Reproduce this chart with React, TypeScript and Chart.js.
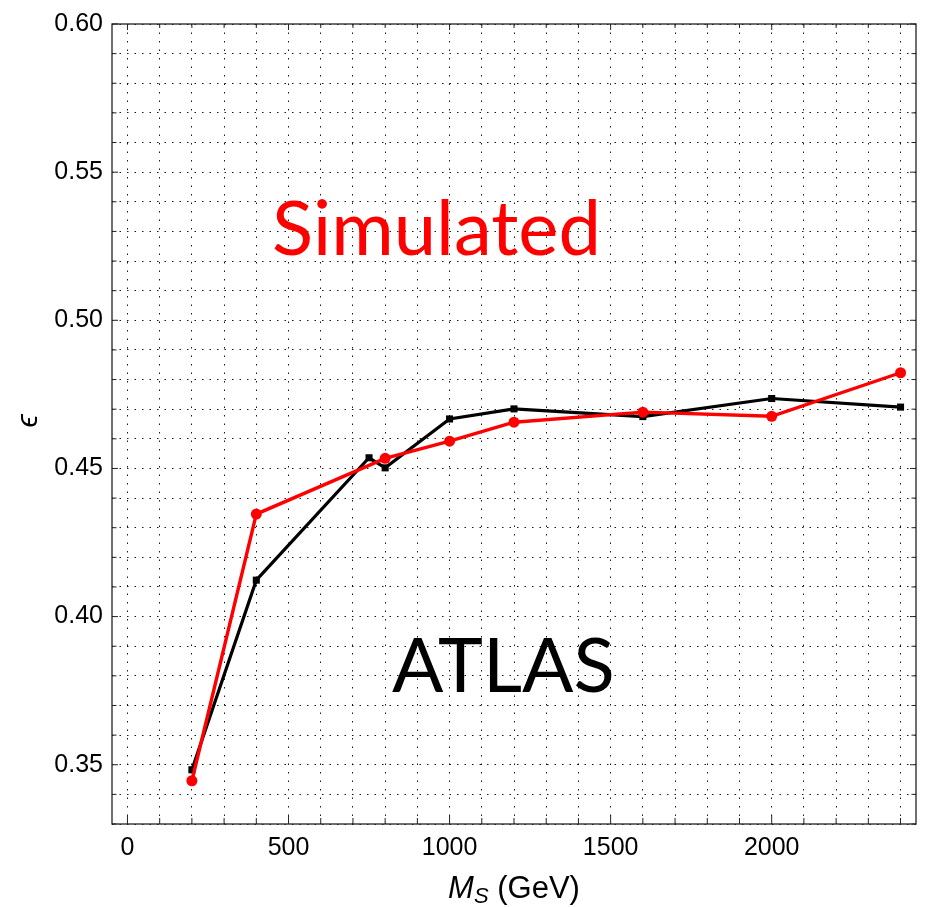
import React, { useEffect, useRef } from "react";
import { Chart, registerables } from "chart.js";

Chart.register(...registerables);

// ---- data ----
const atlasMass = [200, 400, 750, 800, 1000, 1200, 1600, 2000, 2400];
const atlasEff = [0.3483, 0.4123, 0.4536, 0.4502, 0.4667, 0.4701, 0.4675, 0.4736, 0.4707];

const simMass = [200, 400, 800, 1000, 1200, 1600, 2000, 2400];
const simEff = [0.3446, 0.4346, 0.4534, 0.4592, 0.4656, 0.4690, 0.4676, 0.4823];

// tick / grid values
const xTickValues: number[] = [];
for (let v = 0; v <= 2400; v += 100) xTickValues.push(v);
const yTickValues: number[] = [];
for (let i = 33; i <= 60; i++) yTickValues.push(i / 100);

const X_MIN = -48;
const X_MAX = 2448;
const Y_MIN = 0.33;
const Y_MAX = 0.6;

const TICK_FONT = "Liberation Sans, Arial, sans-serif";
const LABEL_FONT = "Lato, 'Noto Sans', sans-serif";

const decorPlugin = {
  id: "decor",
  afterDraw(chart: any) {
    const { ctx, chartArea } = chart;
    const { left, right, top, bottom } = chartArea;
    const xs = chart.scales.x;
    const ys = chart.scales.y;
    ctx.save();
    // frame
    ctx.strokeStyle = "#222";
    ctx.lineWidth = 1.3;
    ctx.strokeRect(left, top, right - left, bottom - top);
    // inward ticks
    ctx.lineWidth = 1;
    ctx.beginPath();
    xTickValues.forEach((v) => {
      const p = xs.getPixelForValue(v);
      const major = v % 500 === 0;
      const lb = major ? 9 : 6;
      const lt = major ? 6 : 4;
      ctx.moveTo(p, bottom);
      ctx.lineTo(p, bottom - lb);
      ctx.moveTo(p, top);
      ctx.lineTo(p, top + lt);
    });
    yTickValues.forEach((v) => {
      const p = ys.getPixelForValue(v);
      const major = Math.round(v * 100) % 5 === 0;
      const l = major ? 6 : 4.5;
      ctx.moveTo(left, p);
      ctx.lineTo(left + l, p);
      ctx.moveTo(right, p);
      ctx.lineTo(right - l, p);
    });
    ctx.stroke();

    // annotations
    ctx.textBaseline = "alphabetic";
    ctx.textAlign = "left";
    ctx.font = `400 76px ${LABEL_FONT}`;
    ctx.fillStyle = "#ff0000";
    ctx.fillText("Simulated", 272, 255);
    ctx.fillStyle = "#000";
    ctx.fillText("ATLAS", 392, 692);

    // x axis title: M_S (GeV)
    const cx = (left + right) / 2;
    const base = 898;
    ctx.fillStyle = "#000";
    const fM = `italic 31px ${TICK_FONT}`;
    const fS = `italic 22px ${TICK_FONT}`;
    const fR = `31px ${TICK_FONT}`;
    ctx.font = fM;
    const wM = ctx.measureText("M").width;
    ctx.font = fS;
    const wS = ctx.measureText("S").width;
    ctx.font = fR;
    const rest = " (GeV)";
    const wR = ctx.measureText(rest).width;
    let x0 = cx - (wM + wS + wR) / 2;
    ctx.font = fM;
    ctx.fillText("M", x0, base);
    x0 += wM;
    ctx.font = fS;
    ctx.fillText("S", x0, base + 5);
    x0 += wS;
    ctx.font = fR;
    ctx.fillText(rest, x0, base);

    // y axis title: epsilon rotated
    ctx.save();
    ctx.translate(37, 421);
    ctx.rotate(-Math.PI / 2);
    ctx.textAlign = "center";
    ctx.font = `italic 30px ${TICK_FONT}`;
    ctx.fillText("\u03F5", 0, 0);
    ctx.restore();

    ctx.restore();
  },
};

export default function App() {
  const ref = useRef<HTMLCanvasElement | null>(null);

  useEffect(() => {
    if (!ref.current) return;
    const chart = new Chart(ref.current, {
      type: "line",
      data: {
        datasets: [
          {
            label: "Simulated",
            data: simMass.map((m, i) => ({ x: m, y: simEff[i] })),
            borderColor: "#ff0000",
            backgroundColor: "#ff0000",
            borderWidth: 3.4,
            pointStyle: "circle",
            pointRadius: 5.5,
            pointBorderWidth: 0,
            tension: 0,
          },
          {
            label: "ATLAS",
            data: atlasMass.map((m, i) => ({ x: m, y: atlasEff[i] })),
            borderColor: "#000000",
            backgroundColor: "#000000",
            borderWidth: 3.2,
            pointStyle: "rect",
            pointRadius: 5,
            pointBorderWidth: 0,
            tension: 0,
          },
        ],
      },
      options: {
        responsive: false,
        animation: false,
        events: [],
        layout: { padding: { left: 0, top: 19, right: 9, bottom: 0 } },
        plugins: { legend: { display: false }, tooltip: { enabled: false } },
        scales: {
          x: {
            type: "linear",
            min: X_MIN,
            max: X_MAX,
            afterBuildTicks: (scale: any) => {
              scale.ticks = xTickValues.map((v) => ({ value: v }));
            },
            afterFit: (scale: any) => {
              scale.height = 83;
            },
            grid: { color: "rgba(0,0,0,0.9)", lineWidth: 1, drawTicks: false },
            border: { display: false, dash: [1.5, 7] },
            ticks: {
              autoSkip: false,
              maxRotation: 0,
              padding: 9,
              color: "#000",
              font: { family: TICK_FONT, size: 25 },
              callback: (v: any) => (Number(v) % 500 === 0 ? String(v) : ""),
            },
          },
          y: {
            type: "linear",
            min: Y_MIN,
            max: Y_MAX,
            afterBuildTicks: (scale: any) => {
              scale.ticks = yTickValues.map((v) => ({ value: v }));
            },
            afterFit: (scale: any) => {
              scale.width = 112;
            },
            grid: { color: "rgba(0,0,0,0.9)", lineWidth: 1, drawTicks: false },
            border: { display: false, dash: [1.5, 6] },
            ticks: {
              autoSkip: false,
              padding: 9,
              color: "#000",
              font: { family: TICK_FONT, size: 25 },
              callback: (v: any) =>
                Math.round(Number(v) * 100) % 5 === 0 ? Number(v).toFixed(2) : "",
            },
          },
        },
      },
      plugins: [decorPlugin],
    });
    return () => chart.destroy();
  }, []);

  return (
    <div style={{ position: "absolute", left: 0, top: 0, width: 925, height: 907, background: "#fff" }}>
      <canvas ref={ref} width={925} height={907} style={{ width: 925, height: 907, display: "block" }} />
    </div>
  );
}
